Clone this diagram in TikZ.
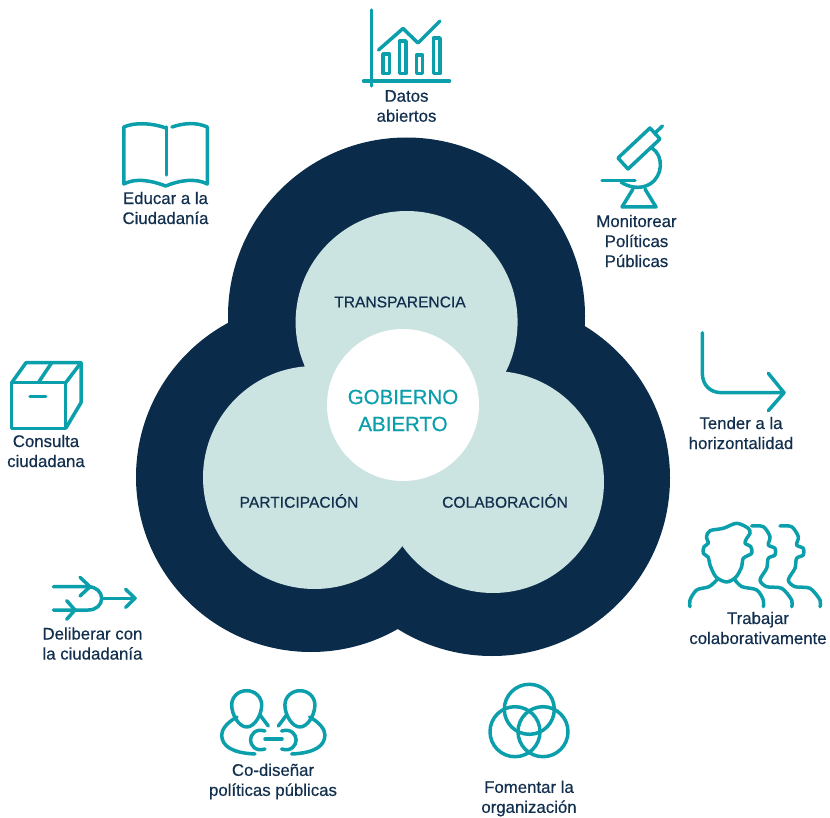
\documentclass[tikz,border=0pt]{standalone}
\usepackage{fontspec}
\setmainfont{Liberation Sans}
\newfontfamily\captionface{Liberation Sans}[FakeBold=0.5]
\definecolor{NavyDark}{HTML}{0A2C4A}
\definecolor{PaleGreen}{HTML}{CCE4E1}
\definecolor{IconTeal}{HTML}{0B9FAC}
\definecolor{TextNavy}{HTML}{122F4E}

\begin{document}
\begin{tikzpicture}[
    x=1pt,y=-1pt,
    iconline/.style={draw=IconTeal,line width=3.5pt,line cap=round,line join=round},
    iconcaption/.style={
      text=TextNavy,align=center,inner sep=0pt,
      font=\captionface\fontsize{16.8}{20}\selectfont
    },
    lobelabel/.style={text=TextNavy,inner sep=0pt,font=\captionface\fontsize{15.6}{20}\selectfont},
    darklobe/.style={fill=NavyDark},
    palelobe/.style={fill=PaleGreen}
  ]
    \useasboundingbox (0,0) rectangle (830,818);

    \fill[darklobe] (406.5,316) circle (178.5pt);
    \fill[darklobe] (311,477) circle (175pt);
    \fill[darklobe] (492,478) circle (178pt);

    \fill[palelobe] (406.6,322) circle (111pt);
    \fill[palelobe] (314.5,477.5) circle (111.5pt);
    \fill[palelobe] (493,482) circle (111pt);
    \fill[white] (403,405) circle (76pt);

    \node[lobelabel] (Transparencia) at (400,302) {TRANSPARENCIA};
    \node[lobelabel] (Participacion) at (299,501) {PARTICIPACIÓN};
    \node[lobelabel] (Colaboracion) at (505,501) {COLABORACIÓN};
    \node[text=IconTeal,align=center,inner sep=0pt,font=\captionface\fontsize{20.5}{27}\selectfont] (Gobierno) at (403,410.5) {GOBIERNO\\ABIERTO};

    \draw[iconline] (371.3,10) -- (371.3,86);
    \draw[iconline] (363.5,81) -- (449.5,81);
    \draw[iconline] (378.5,50) -- (403,28.5) -- (418,43) -- (440,21);
    \draw[iconline] (383,54) rectangle (389.5,73.5);
    \draw[iconline] (399.5,41) rectangle (406,73.5);
    \draw[iconline] (416.5,55) rectangle (422.5,73.5);
    \draw[iconline] (433.5,38) rectangle (440,73.5);
    \node[iconcaption] (DatosAbiertos) at (406.5,106) {Datos\\abiertos};

    \draw[iconline] (650,128) -- (660,139) -- (628,169) -- (618,158) -- cycle;
    \draw[iconline] (655,133) -- (662.5,126);
    \draw[iconline] (652,148) .. controls (664,156) and (663,176) .. (650,184) .. controls (640,190) and (628,187) .. (621,182);
    \draw[iconline] (602,180.5) -- (635,180.5);
    \draw[iconline] (622,207) -- (656,207) -- (645,189);
    \draw[iconline] (622,207) -- (633,189);
    \node[iconcaption] (Monitorear) at (636.5,241) {Monitorear\\Políticas\\Públicas};

    \draw[iconline] (166.7,127) -- (166.7,175);
    \draw[iconline] (166,128) .. controls (152,123) and (135,122) .. (123.8,127) -- (123.8,184)
      .. controls (135,178) and (150,180) .. (165.7,186) .. controls (180,180) and (196,178) .. (207.3,184)
      -- (207.3,127) .. controls (196,122) and (184,123) .. (172,127);
    \node[iconcaption] (EducarCiudadania) at (165.5,208) {Educar a la\\Ciudadanía};

    \draw[iconline] (11.7,382.7) rectangle (65.7,428.3);
    \draw[iconline] (11.7,382.7) -- (26,362.7) -- (81,362.7) -- (81,402.7) -- (65.7,428.3);
    \draw[iconline] (65.7,382.7) -- (81,362.7);
    \draw[iconline] (38.3,382.7) -- (51.7,362.7);
    \draw[iconline] (30,396.7) -- (45.7,396.7);
    \node[iconcaption] (ConsultaCiudadana) at (46,451) {Consulta\\ciudadana};

    \draw[iconline] (702.3,332.7) -- (702.3,373) .. controls (702.3,385) and (710,392.7) .. (721.7,392.7) -- (784,392.7);
    \draw[iconline] (768.3,373.3) -- (784,392.7) -- (768.3,410.7);
    \node[iconcaption] (TenderHorizontal) at (741,433) {Tender a la\\horizontalidad};

    \draw[iconline] plot[smooth cycle,tension=0.5] coordinates {(726.7,582) (716,577) (710,565) (708.3,557.3) (703.3,553.3) (704,546.7) (708.3,543.3) (706.5,536.7) (710,530.7) (723.3,528.3) (736.7,523.3) (748.3,528.3) (750,533.3) (746.7,538.3) (745,543.3) (750.7,546.7) (751.7,553.3) (743.3,558.3) (741.7,566.7) (736,577)};
    \draw[iconline] plot[smooth,tension=0.55] coordinates {(690,606.7) (690,600) (696.7,590) (709,586.7) (716.7,580)};
    \draw[iconline] plot[smooth,tension=0.55] coordinates {(763.3,606.7) (763.3,600) (756.7,590) (742,586.7) (735,580)};
    \foreach \dx in {0,28.3}
      \draw[iconline,xshift=\dx pt] plot[smooth,tension=0.5] coordinates {(751.7,526) (763.3,526.7) (770,536.7) (768.3,545) (775,548.3) (775,555) (768.3,558.3) (766.7,568.3) (760,580) (766.7,586.7) (781.7,588.3) (791.7,600) (791.7,606.7)};
    \node[iconcaption] (TrabajarColab) at (758,628) {Trabajar\\colaborativamente};

    \draw[iconline] (529.3,709.3) circle (25pt);
    \draw[iconline] (515,731.7) circle (25pt);
    \draw[iconline] (543,731.7) circle (25pt);
    \node[iconcaption] (FomentarOrg) at (529,798.5) {Fomentar la\\organización};

    \foreach \mirror/\off in {1/0,-1/546.6} {
      \begin{scope}[xshift=\off pt,xscale=\mirror]
        \draw[iconline] (246.7,690.7) .. controls (238,690.7) and (231.7,697) .. (231.7,705) .. controls (231.7,715) and (239,727) .. (246.7,727) .. controls (254.5,727) and (261.7,715) .. (261.7,705) .. controls (261.7,697) and (255,690.7) .. cycle;
        \draw[iconline] (237,717) .. controls (226,723) and (221.7,730) .. (221.7,735) .. controls (221.7,746) and (232,753) .. (255,754);
        \draw[iconline] (260,715) -- (268.3,726);
        \draw[iconline] (265,731) .. controls (255,728) and (250.5,735) .. (250.5,740) .. controls (250.5,745) and (255,752) .. (265,749);
      \end{scope}
    }
    \draw[iconline] (265,739) -- (282,739);
    \node[iconcaption] (CoDisenar) at (273,781.5) {Co-diseñar\\políticas públicas};

    \draw[iconline] (53.3,586.7) -- (88.3,586.7) .. controls (96,586.7) and (101.7,592) .. (101.7,598.3) .. controls (101.7,605) and (96,610) .. (88.3,610) -- (53.3,610);
    \draw[iconline] (101.7,598.3) -- (135,598.3);
    \draw[iconline] (80,577.3) -- (90,586.7) -- (80,596);
    \draw[iconline] (66.7,600.7) -- (75,610) -- (66.7,619.3);
    \draw[iconline] (125.7,589.3) -- (135,598.3) -- (125.7,607.3);
    \node[iconcaption] (DeliberarCiudadania) at (92.5,643.5) {Deliberar con\\la ciudadanía};
  \end{tikzpicture}
\end{document}
